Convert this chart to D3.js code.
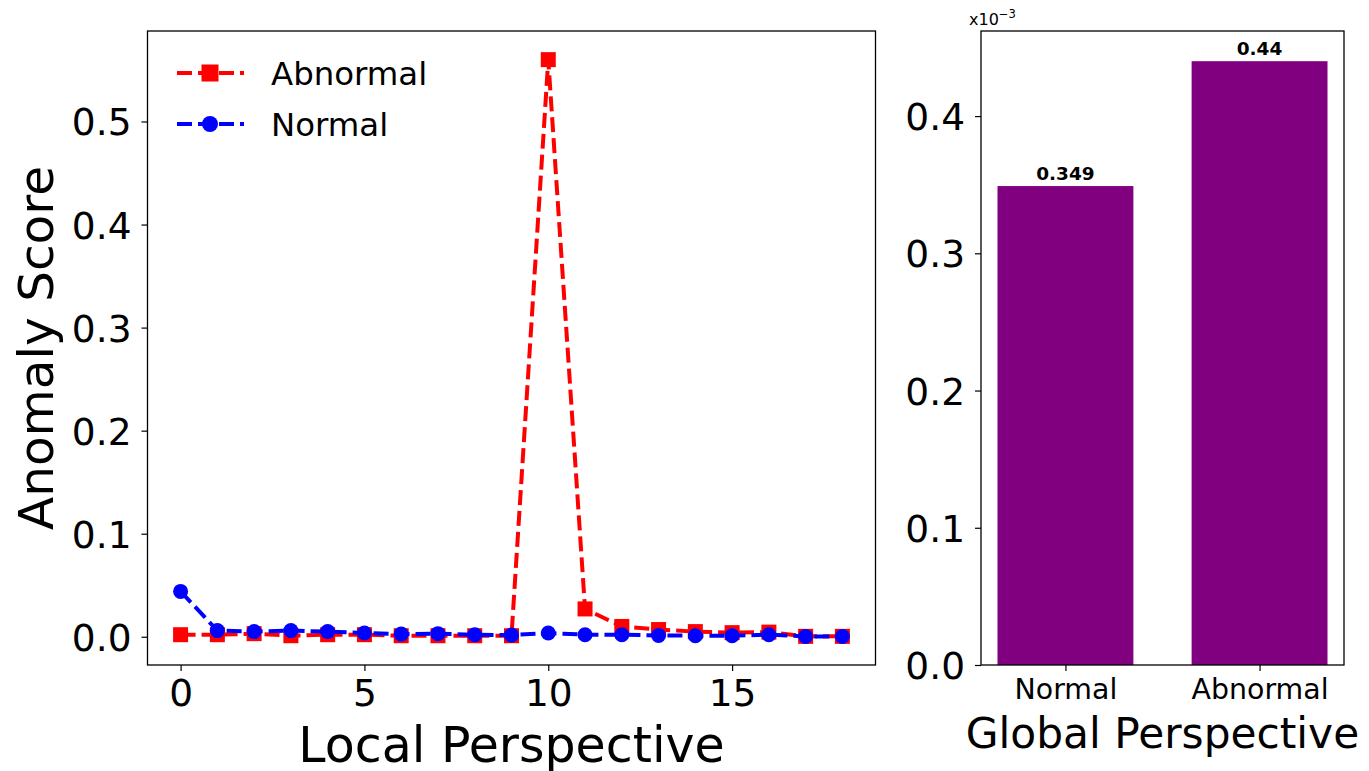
<!DOCTYPE html>
<html>
<head>
<meta charset="utf-8">
<script src="https://cdn.jsdelivr.net/npm/d3@7"></script>
<style>
  html, body { margin: 0; padding: 0; background: #fff; }
  svg { display: block; font-family: "DejaVu Sans", sans-serif; }
</style>
</head>
<body>
<div id="chart"></div>
<script>
// ============ Data ============
const steps = [0, 1, 2, 3, 4, 5, 6, 7, 8, 9, 10, 11, 12, 13, 14, 15, 16, 17, 18];
const abnormalScores = [0.002, 0.002, 0.003, 0.001, 0.002, 0.002, 0.001, 0.001, 0.001, 0.001,
                        0.560, 0.027, 0.010, 0.007, 0.005, 0.004, 0.0045, 0.0004, 0.0004];
const normalScores   = [0.044, 0.006, 0.005, 0.006, 0.005, 0.0036, 0.0026, 0.003, 0.002, 0.0016,
                        0.0036, 0.002, 0.002, 0.0013, 0.001, 0.001, 0.002, 0.0003, 0.0003];
const localTicksX = [0, 5, 10, 15];
const localTicksY = [0.0, 0.1, 0.2, 0.3, 0.4, 0.5];

const globalCats   = ['Normal', 'Abnormal'];
const globalValues = [0.349, 0.44];
const globalLabels = ['0.349', '0.44'];
const globalTicksY = [0.0, 0.1, 0.2, 0.3, 0.4];

const W = 1369, H = 771;
const svg = d3.select('#chart').append('svg')
  .attr('width', W).attr('height', H);

// ── Left panel: local perspective ──
const L = { left: 147.5, right: 875.5, top: 31, bottom: 665 };
const xL = d3.scaleLinear().domain([-0.9, 18.9]).range([L.left, L.right]);
const yL = d3.scaleLinear().domain([-0.0274, 0.5878]).range([L.bottom, L.top]);

const gL = svg.append('g');

const series = [
  { name: 'Abnormal', values: abnormalScores, color: '#ff0000', marker: 'square' },
  { name: 'Normal',   values: normalScores,   color: '#0000ff', marker: 'circle' }
];

const lineGen = d3.line().x((d, i) => xL(steps[i])).y(d => yL(d));

function drawMarker(g, type, color, size) {
  if (type === 'square') {
    g.append('rect')
      .attr('x', -size / 2).attr('y', -size / 2)
      .attr('width', size).attr('height', size)
      .attr('fill', color);
  } else {
    g.append('circle').attr('r', size / 2).attr('fill', color);
  }
}

series.forEach(s => {
  gL.append('path')
    .datum(s.values)
    .attr('d', lineGen)
    .attr('fill', 'none')
    .attr('stroke', s.color)
    .attr('stroke-width', 4)
    .attr('stroke-dasharray', '15,6');
  s.values.forEach((v, i) => {
    const m = gL.append('g').attr('transform', `translate(${xL(steps[i])},${yL(v)})`);
    drawMarker(m, s.marker, s.color, 15);
  });
});

// axes
const axL = gL.append('g').attr('transform', `translate(0,${L.bottom})`)
  .call(d3.axisBottom(xL).tickValues(localTicksX).tickFormat(d3.format('d')).tickSize(6).tickPadding(8));
const ayL = gL.append('g').attr('transform', `translate(${L.left},0)`)
  .call(d3.axisLeft(yL).tickValues(localTicksY).tickFormat(d3.format('.1f')).tickSize(6).tickPadding(10));
[axL, ayL].forEach(a => {
  a.select('.domain').remove();
  a.selectAll('line').attr('stroke', '#000').attr('stroke-width', 1.2);
  a.selectAll('text').attr('font-size', 37.5).attr('fill', '#000')
    .attr('font-family', '"DejaVu Sans", sans-serif');
});
ayL.selectAll('text').attr('dy', '0.36em');

gL.append('rect')
  .attr('x', L.left).attr('y', L.top)
  .attr('width', L.right - L.left).attr('height', L.bottom - L.top)
  .attr('fill', 'none').attr('stroke', '#000').attr('stroke-width', 1.3);

gL.append('text')
  .attr('x', (L.left + L.right) / 2).attr('y', 762)
  .attr('text-anchor', 'middle').attr('font-size', 49).text('Local Perspective');

gL.append('text')
  .attr('transform', `translate(53,${(L.top + L.bottom) / 2}) rotate(-90)`)
  .attr('text-anchor', 'middle').attr('font-size', 48.5).text('Anomaly Score');

// legend
const legend = gL.append('g');
series.forEach((s, i) => {
  const y = 73 + i * 51;
  const row = legend.append('g');
  row.append('line')
    .attr('x1', 177).attr('x2', 244).attr('y1', y).attr('y2', y)
    .attr('stroke', s.color).attr('stroke-width', 4).attr('stroke-dasharray', '15,6');
  const m = row.append('g').attr('transform', `translate(210,${y})`);
  drawMarker(m, s.marker, s.color, s.marker === 'square' ? 17 : 16);
  row.append('text')
    .attr('x', 271).attr('y', y).attr('dy', '0.36em')
    .attr('font-size', 32.4).text(s.name);
});

// ── Right panel: global perspective ──
const R = { left: 981, right: 1344, top: 31, bottom: 665 };
const xR = d3.scaleLinear().domain([-0.435, 1.435]).range([R.left, R.right]);
const yR = d3.scaleLinear().domain([0, 0.462]).range([R.bottom, R.top]);
const barW = 0.7;

const gR = svg.append('g');

gR.selectAll('rect.bar')
  .data(globalValues).enter().append('rect')
  .attr('class', 'bar')
  .attr('x', (d, i) => xR(i - barW / 2))
  .attr('width', (d, i) => xR(i + barW / 2) - xR(i - barW / 2))
  .attr('y', d => yR(d))
  .attr('height', d => yR(0) - yR(d))
  .attr('fill', '#800080');

gR.selectAll('text.val')
  .data(globalValues).enter().append('text')
  .attr('class', 'val')
  .attr('x', (d, i) => xR(i))
  .attr('y', d => yR(d) - 6)
  .attr('text-anchor', 'middle')
  .attr('font-size', 18.5).attr('font-weight', 'bold')
  .text((d, i) => globalLabels[i]);

const axR = gR.append('g').attr('transform', `translate(0,${R.bottom})`)
  .call(d3.axisBottom(xR).tickValues([0, 1]).tickFormat(i => globalCats[i]).tickSize(6).tickPadding(8));
const ayR = gR.append('g').attr('transform', `translate(${R.left},0)`)
  .call(d3.axisLeft(yR).tickValues(globalTicksY).tickFormat(d3.format('.1f')).tickSize(6).tickPadding(10));
[axR, ayR].forEach(a => {
  a.select('.domain').remove();
  a.selectAll('line').attr('stroke', '#000').attr('stroke-width', 1.2);
  a.selectAll('text').attr('fill', '#000')
    .attr('font-family', '"DejaVu Sans", sans-serif');
});
axR.selectAll('text').attr('font-size', 28.4);
ayR.selectAll('text').attr('font-size', 37.5).attr('dy', '0.36em');

gR.append('rect')
  .attr('x', R.left).attr('y', R.top)
  .attr('width', R.right - R.left).attr('height', R.bottom - R.top)
  .attr('fill', 'none').attr('stroke', '#000').attr('stroke-width', 1.3);

gR.append('text')
  .attr('x', (R.left + R.right) / 2).attr('y', 748)
  .attr('text-anchor', 'middle').attr('font-size', 42.3).text('Global Perspective');

const off = gR.append('text').attr('x', 969).attr('y', 25).attr('font-size', 16);
off.append('tspan').text('x10');
off.append('tspan').attr('dy', -7).attr('font-size', 11.5).text('\u22123');
</script>
</body>
</html>
